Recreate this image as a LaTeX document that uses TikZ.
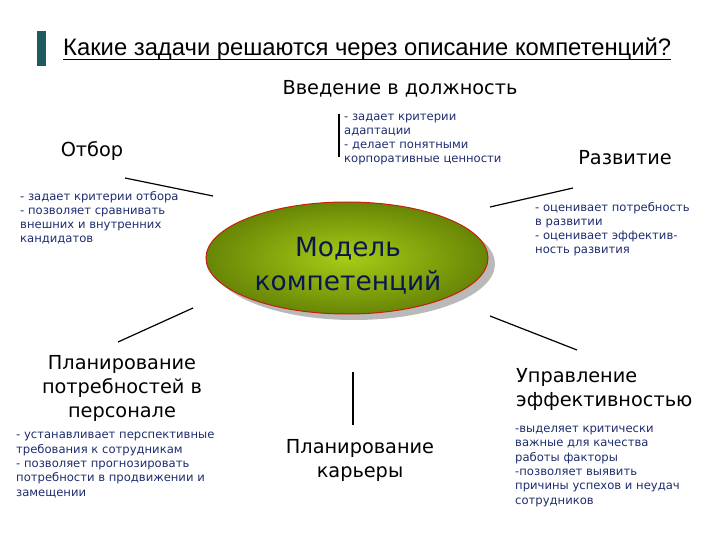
\documentclass[tikz,border=0pt]{standalone}
\usepackage{fontspec}
\setmainfont{DejaVu Sans}
\newfontfamily\titlefont{Liberation Sans}
\usetikzlibrary{shapes.geometric}
\definecolor{bartl}{RGB}{30,90,94}
\definecolor{smblue}{RGB}{28,44,110}
\definecolor{navy}{RGB}{10,22,80}
\definecolor{ellin}{RGB}{168,204,22}
\definecolor{ellout}{RGB}{104,134,6}
\tikzset{
  head/.style={font=\fontsize{19.3}{24}\selectfont, align=center, inner sep=0pt, text=black},
  headl/.style={font=\fontsize{19.3}{24}\selectfont, align=left, inner sep=0pt, text=black},
  note/.style={font=\fontsize{11.6}{14.3}\selectfont, align=left, inner sep=0pt, text=smblue, anchor=base west},
  conn/.style={draw=black, line width=1.2pt},
}
\begin{document}
\begin{tikzpicture}[x=1pt,y=-1pt]
\useasboundingbox (0,0) rectangle (720,540);
% title
\fill[bartl] (37,31) rectangle (46,66) coordinate (barc);
\node[font=\titlefont\fontsize{23.8}{26}\selectfont, anchor=base west, inner sep=0pt] (title) at (63,56) {Какие задачи решаются через описание компетенций?};
\draw[line width=1pt] ([yshift=-3.5pt]title.base west) -- ([yshift=-3.5pt]title.base east);
% top
\node[head, anchor=base] (vved) at (400,95) {Введение в должность};
\node[note] (vvedn) at (344,163) {- задает критерии\\адаптации\\- делает понятными\\корпоративные ценности};
\coordinate (v1) at (339,114); \coordinate (v2) at (339,157);
\draw[conn] (v1) -- (v2);
% otbor
\node[head, anchor=base] (otbor) at (92,157) {Отбор};
\node[note] (otborn) at (20,243) {- задает критерии отбора\\- позволяет сравнивать\\внешних и внутренних\\кандидатов};
\coordinate (o1) at (125,178); \coordinate (o2) at (213,196);
\draw[conn] (o1) -- (o2);
% razvitie
\node[head, anchor=base] (razv) at (625,165) {Развитие};
\node[note] (razvn) at (535,254) {- оценивает потребность\\в развитии\\- оценивает эффектив-\\ность развития};
\coordinate (r1) at (490,207); \coordinate (r2) at (573,188);
\draw[conn] (r1) -- (r2);
% ellipse
\fill[gray!55] (354,264) ellipse [x radius=141, y radius=56];
\node[ellipse, minimum width=282pt, minimum height=112pt, draw={rgb,255:red,200;green,30;blue,10}, line width=1pt, inner color=ellin, outer color=ellout, inner sep=0pt] (model) at (347,258) {};
\node[font=\fontsize{26.4}{34}\selectfont, align=center, text=navy, inner sep=0pt, anchor=base] (modelt) at (348,290) {Модель\\компетенций};
% planirovanie potrebnostey
\coordinate (p1) at (118,342); \coordinate (p2) at (193,308);
\draw[conn] (p1) -- (p2);
\node[head, anchor=base] (plan) at (122,417) {Планирование\\потребностей в\\персонале};
\node[note] (plann) at (16,496) {- устанавливает перспективные\\требования к сотрудникам\\- позволяет прогнозировать\\потребности в продвижении и\\замещении};
% kariera
\coordinate (k1) at (353,372); \coordinate (k2) at (353,425);
\draw[conn] (k1) -- (k2);
\node[head, anchor=base] (kar) at (360,477) {Планирование\\карьеры};
% upravlenie
\coordinate (u1) at (490,316); \coordinate (u2) at (577,350);
\draw[conn] (u1) -- (u2);
\node[headl, anchor=base west] (upr) at (516,406) {Управление\\эффективностью};
\node[note] (uprn) at (515,504) {-выделяет критически\\важные для качества\\работы факторы\\-позволяет выявить\\причины успехов и неудач\\сотрудников};
\end{tikzpicture}
\end{document}
